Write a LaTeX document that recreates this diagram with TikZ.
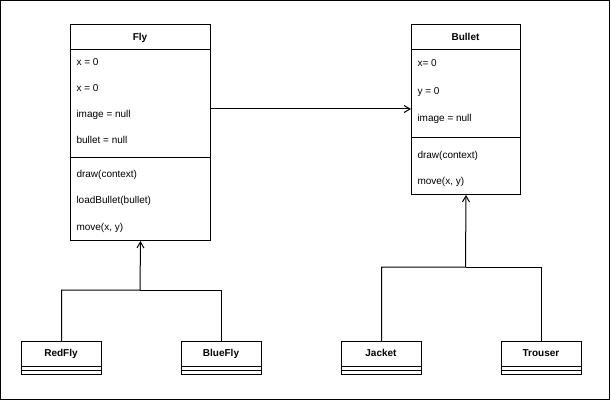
\documentclass[tikz,border=0pt]{standalone}
\usepackage{fontspec}
\setmainfont{Liberation Sans}
\usetikzlibrary{arrows.meta}
\begin{document}
\begin{tikzpicture}[x=1pt,y=-1pt,line width=1pt,
  classbox/.style={draw,rectangle,anchor=north west,inner sep=0pt,fill=white},
  classname/.style={font=\bfseries\fontsize{10}{12}\selectfont,inner sep=0pt,anchor=base,yshift=-3.6pt},
  member/.style={font=\fontsize{10}{12}\selectfont,anchor=base west,inner sep=0pt,yshift=-3.6pt},
  arr/.style={-{Straight Barb[length=6pt,width=7pt]}}]
\useasboundingbox (0,0) rectangle (611,401);
\draw (0.5,0.5) rectangle (609.5,399.5);

% class Fly
\node[classbox,minimum width=140pt,minimum height=216pt] (fly) at (70,24) {};
\draw (70,50) -- (210,50);
\draw (70,158) -- (210,158);
\node[classname] (flyname) at (140,37) {Fly};
\node[member] (fa1) at (76,62) {x = 0};
\node[member] (fa2) at (76,88) {x = 0};
\node[member] (fa3) at (76,114) {image = null};
\node[member] (fa4) at (76,140) {bullet = null};
\node[member] (fm1) at (76,174) {draw(context)};
\node[member] (fm2) at (76,200) {loadBullet(bullet)};
\node[member] (fm3) at (76,227) {move(x, y)};

% class Bullet
\node[classbox,minimum width=109pt,minimum height=170pt] (bullet) at (411,24) {};
\draw (411,50) -- (520,50);
\draw (411,138) -- (520,138);
\node[classname] (bulletname) at (465.5,37) {Bullet};
\node[member] (ba1) at (417,63) {x= 0};
\node[member] (ba2) at (417,91) {y = 0};
\node[member] (ba3) at (417,118) {image = null};
\node[member] (bm1) at (417,155) {draw(context)};
\node[member] (bm2) at (417,181) {move(x, y)};

% subclasses
\foreach \nm/\lbl/\xx in {redfly/RedFly/21, bluefly/BlueFly/181, jacket/Jacket/341, trouser/Trouser/501}{
  \node[classbox,minimum width=80pt,minimum height=33pt] (\nm) at (\xx,341) {};
  \draw (\xx,366) -- ++(80,0);
  \draw (\xx,370) -- ++(80,0);
  \node[classname] (\nm-name) at (\xx+40,353) {\lbl};
}

% inheritance connectors
\coordinate (flyjoin) at (140,290);
\coordinate (bulletjoin) at (465.5,267);
\draw[arr] (redfly.north) |- (flyjoin) -- (fly.south);
\draw (bluefly.north) |- (flyjoin);
\draw[arr] (jacket.north) |- (bulletjoin) -- (bullet.south);
\draw (trouser.north) |- (bulletjoin);

% association
\coordinate (assoc) at (300,109);
\draw[arr] (fly.east |- assoc) -- (bullet.west |- assoc);
\end{tikzpicture}
\end{document}
